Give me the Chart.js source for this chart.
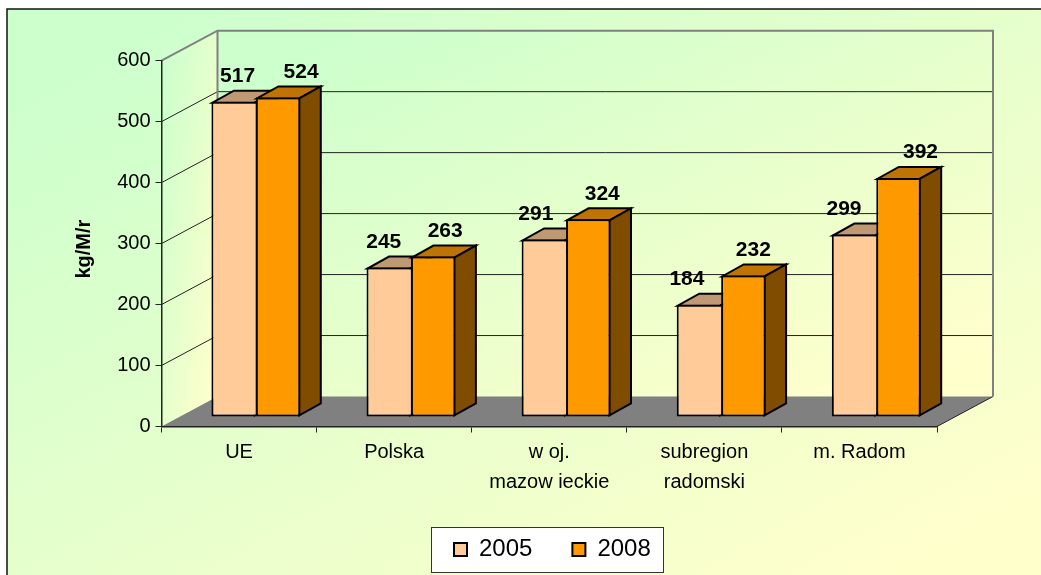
<!DOCTYPE html>
<html><head><meta charset="utf-8">
<style>html,body{margin:0;padding:0;background:#fff}canvas{display:block}</style>
<script src="https://cdn.jsdelivr.net/npm/chart.js@4/dist/chart.umd.min.js"></script>
</head><body><canvas id="c" width="1041" height="575"></canvas>
<script>
const categories = ['UE','Polska',['w oj.','mazow ieckie'],['subregion','radomski'],'m. Radom'];
const series2005 = [517,245,291,184,299];
const series2008 = [524,263,324,232,392];
const yMax = 600, yStep = 100;

const FONT = 'Liberation Sans';
const wallDX = 56, wallDY = 30;      // depth of the whole chart box
const barDX = 16.8, barDY = 9.6;     // bars stand inside the floor
const faceDX = 21.5, faceDY = 12;    // depth of one bar
const labelNudge = [[4,-5,-8,-12,-10],[23,12,14,10,22]];
const faces = [{top:'#BF9973',side:'#806633'},{top:'#BF7300',side:'#804D00'}];

function cornerGradient(ctx,x0,y0,x1,y1){
  const w=x1-x0,h=y1-y0,cx=(x0+x1)/2,cy=(y0+y1)/2;
  const len=Math.hypot(h,w),ux=h/len,uy=w/len;
  const t=(x0-cx)*ux+(y0-cy)*uy;
  const g=ctx.createLinearGradient(cx+ux*t,cy+uy*t,cx-ux*t,cy-uy*t);
  g.addColorStop(0.08,'#CCFFCC');g.addColorStop(0.92,'#FFFFCC');
  return g;
}
function poly(ctx,pts){ctx.beginPath();pts.forEach((p,i)=>i?ctx.lineTo(p[0],p[1]):ctx.moveTo(p[0],p[1]));ctx.closePath();}

const scene = {
  id:'scene',
  afterLayout(chart){
    const l=chart.legend;
    l.left=414;l.right=1041;l.top=497.5;l.bottom=575;l.width=627;l.height=77.5;
    chart.scales.x.bottom=525;
  },
  beforeDraw(chart){
    const ctx=chart.ctx,a=chart.chartArea,y=chart.scales.y;
    const L=a.left,R=a.right,T=y.getPixelForValue(yMax),B=y.getPixelForValue(0);
    ctx.save();
    // paper
    ctx.fillStyle='#fff';ctx.fillRect(0,0,1041,575);
    ctx.fillStyle=cornerGradient(ctx,7,9,1041,575);ctx.fillRect(7,9,1034,566);
    ctx.strokeStyle='#111';ctx.lineWidth=1.5;
    ctx.beginPath();ctx.moveTo(7,575);ctx.lineTo(7,9);ctx.lineTo(1041,9);ctx.stroke();
    // walls
    ctx.fillStyle=cornerGradient(ctx,L+wallDX,T-wallDY,R+wallDX,B-wallDY);
    ctx.fillRect(L+wallDX,T-wallDY,R-L,B-T);
    poly(ctx,[[L,T],[L+wallDX,T-wallDY],[L+wallDX,B-wallDY],[L,B]]);
    ctx.fillStyle=cornerGradient(ctx,L,T-wallDY,L+wallDX,B);ctx.fill();
    // floor
    poly(ctx,[[L,B],[R,B],[R+wallDX,B-wallDY],[L+wallDX,B-wallDY]]);
    ctx.fillStyle='#808080';ctx.fill();
    ctx.strokeStyle='#222';ctx.lineWidth=1;
    ctx.beginPath();ctx.moveTo(R,B);ctx.lineTo(R+wallDX,B-wallDY);ctx.stroke();
    // grid lines bent over the two walls
    y.ticks.forEach(t=>{
      if(t.value===0||t.value===yMax)return;
      const p=y.getPixelForValue(t.value);
      ctx.strokeStyle='#222';ctx.lineWidth=1;
      ctx.beginPath();ctx.moveTo(L,p);ctx.lineTo(L+wallDX,p-wallDY);ctx.lineTo(R+wallDX,p-wallDY);ctx.stroke();
    });
    // wall frame
    ctx.strokeStyle='#808080';ctx.lineWidth=2;
    ctx.beginPath();ctx.moveTo(L,T);ctx.lineTo(L+wallDX,T-wallDY);ctx.lineTo(R+wallDX,T-wallDY);ctx.lineTo(R+wallDX,B-wallDY);ctx.stroke();
    ctx.beginPath();ctx.moveTo(L+wallDX,T-wallDY);ctx.lineTo(L+wallDX,B-wallDY);ctx.stroke();
    // legend box
    ctx.fillStyle='#fff';ctx.strokeStyle='#333';ctx.lineWidth=1;
    ctx.fillRect(431.5,527.5,232,45);ctx.strokeRect(431.5,527.5,232,45);
    ctx.restore();
  },
  beforeDatasetDraw(){return false;},
  beforeDatasetsDraw(chart){
    const ctx=chart.ctx;
    ctx.save();ctx.translate(barDX,-barDY);
    ctx.lineJoin='miter';
    [0,1].forEach(i=>{
      const meta=chart.getDatasetMeta(i);
      meta.data.forEach(el=>{
        const l=el.x-el.width/2+1,r=el.x+el.width/2-1,t=el.y+1,b=el.base-1;
        ctx.strokeStyle='#000';ctx.lineWidth=2;
        poly(ctx,[[l,t],[r,t],[r+faceDX,t-faceDY],[l+faceDX,t-faceDY]]);
        ctx.fillStyle=faces[i].top;ctx.fill();ctx.stroke();
        poly(ctx,[[r,t],[r+faceDX,t-faceDY],[r+faceDX,b-faceDY],[r,b]]);
        ctx.fillStyle=faces[i].side;ctx.fill();ctx.stroke();
        el.draw(ctx);
      });
    });
    ctx.restore();
  },
  afterDatasetsDraw(chart){
    const ctx=chart.ctx;
    ctx.save();
    ctx.font='bold 21px "'+FONT+'"';ctx.fillStyle='#000';ctx.textAlign='center';ctx.textBaseline='middle';
    [0,1].forEach(i=>{
      chart.getDatasetMeta(i).data.forEach((el,j)=>{
        ctx.fillText(String(chart.data.datasets[i].data[j]),el.x+barDX+labelNudge[i][j],el.y-barDY-25.5);
      });
    });
    ctx.restore();
  }
};

new Chart(document.getElementById('c'),{
  type:'bar',
  data:{labels:categories,datasets:[
    {label:'2005',data:series2005,backgroundColor:'#FFCC99',borderColor:'#000',borderWidth:{top:2,right:0,bottom:2,left:2},borderSkipped:false},
    {label:'2008',data:series2008,backgroundColor:'#FF9900',borderColor:'#000',borderWidth:2,borderSkipped:false}
  ]},
  plugins:[scene],
  options:{
    responsive:false,animation:false,
    events:[],
    layout:{autoPadding:false,padding:{left:0,top:60.7,right:104,bottom:0}},
    categoryPercentage:0.573,barPercentage:1,
    plugins:{
      tooltip:{enabled:false},
      legend:{position:'bottom',align:'start',labels:{
        boxWidth:13,boxHeight:13,padding:40,color:'#000',font:{family:FONT,size:24},
        generateLabels:c=>Chart.defaults.plugins.legend.labels.generateLabels(c).map(l=>({...l,lineWidth:2}))
      }}
    },
    scales:{
      x:{
        grid:{drawOnChartArea:false,offset:true,tickLength:6,tickColor:'#222',tickWidth:1},
        border:{color:'#222',width:1.5},
        ticks:{autoSkip:false,maxRotation:0,minRotation:0,padding:5,color:'#000',font:{family:FONT,size:20,lineHeight:1.5}},
        afterFit(s){s.height=74.5;}
      },
      y:{
        min:0,max:yMax,
        grid:{drawOnChartArea:false,tickLength:6,tickColor:'#222',tickWidth:1},
        border:{color:'#222',width:1.5},
        ticks:{stepSize:yStep,padding:5,color:'#000',font:{family:FONT,size:20}},
        title:{display:true,text:'kg/M/r  ',color:'#000',font:{family:FONT,size:20,weight:'bold'},padding:{top:72,bottom:0}},
        afterFit(s){s.width=161.5;}
      }
    }
  }
});
</script></body></html>
